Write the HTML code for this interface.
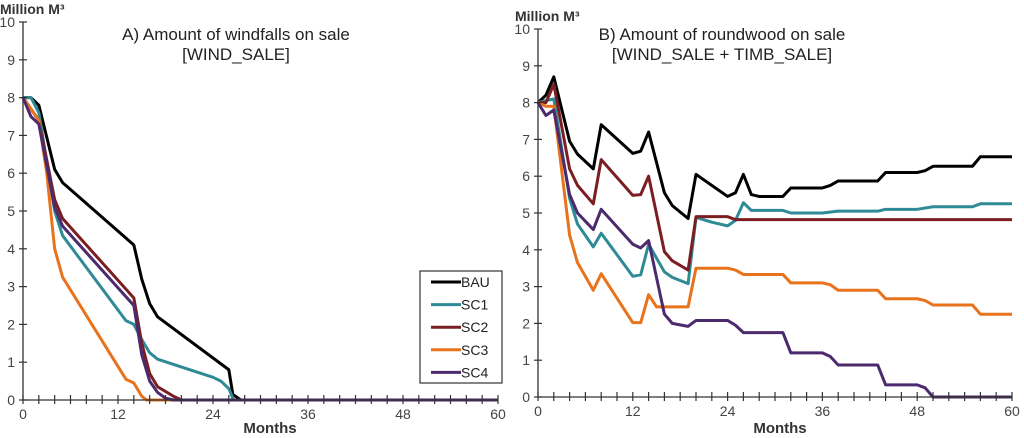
<!DOCTYPE html>
<html><head><meta charset="utf-8"><style>
html,body{margin:0;padding:0;background:#fff;}
svg{display:block;font-family:"Liberation Sans",Arial,sans-serif;}
</style></head><body>
<svg id="c" width="1024" height="438"></svg>
<script>
const colors=["#000000","#2e8b96","#7b1e22","#e8731c","#4b2a6e"];
const names=["BAU","SC1","SC2","SC3","SC4"];
const xTicks=[0,12,24,36,48,60];
const yTicks=[0,1,2,3,4,5,6,7,8,9,10];
// Chart A (windfalls on sale)
const aBAUx=[0,1,2,4,5,14,15,16,17,26,26.5,27.5,60];
const aBAUy=[8,8,7.8,6.1,5.75,4.1,3.2,2.55,2.2,0.8,0.15,0,0];
const aSC1x=[0,1,2,4,5,13,14,15,16,17,24,25,26,26.6,60];
const aSC1y=[8,8,7.6,5,4.35,2.1,2,1.6,1.25,1.08,0.6,0.5,0.3,0,0];
const aSC2x=[0,2,4,5,14,15,16,17,19,20,60];
const aSC2y=[8,7.4,5.3,4.8,2.7,1.5,0.7,0.35,0.1,0,0];
const aSC3x=[0,2,3,4,5,13,14,15,15.6,60];
const aSC3y=[8,7.4,6,4,3.25,0.55,0.45,0.1,0,0];
const aSC4x=[0,1,2,4,5,14,15,16,17,18,19,60];
const aSC4y=[8,7.5,7.3,5.1,4.6,2.5,1.2,0.5,0.2,0.05,0,0];
// Chart B (roundwood on sale)
const bBAUx=[0,1,2,4,5,7,8,12,13,14,16,17,19,20,24,25,26,27,28,31,32,36,37,38,43,44,48,49,50,55,56,60];
const bBAUy=[8,8.2,8.7,6.95,6.6,6.2,7.4,6.62,6.68,7.2,5.55,5.2,4.85,6.05,5.45,5.55,6.05,5.5,5.45,5.45,5.68,5.68,5.75,5.87,5.87,6.1,6.1,6.15,6.27,6.27,6.53,6.53];
const bSC1x=[0,1,2,4,5,7,8,12,13,14,16,17,19,20,22,24,25,26,27,31,32,36,38,43,44,48,50,55,56,60];
const bSC1y=[8,8.05,8.1,5.4,4.7,4.08,4.45,3.28,3.32,4.15,3.4,3.25,3.08,4.88,4.75,4.65,4.8,5.28,5.07,5.07,5,5,5.05,5.05,5.1,5.1,5.17,5.17,5.25,5.25];
const bSC2x=[0,1,2,4,5,7,8,12,13,14,16,17,19,20,24,25,60];
const bSC2y=[8,8,8.5,6.2,5.75,5.25,6.45,5.48,5.5,6,3.95,3.7,3.45,4.9,4.9,4.82,4.82];
const bSC3x=[0,1,2,4,5,7,8,12,13,14,15,19,20,24,25,26,31,32,36,37,38,43,44,48,49,50,55,56,60];
const bSC3y=[8,7.9,7.9,4.4,3.65,2.9,3.35,2.02,2.02,2.78,2.45,2.45,3.5,3.5,3.45,3.33,3.33,3.1,3.1,3.05,2.9,2.9,2.67,2.67,2.62,2.5,2.5,2.25,2.25];
const bSC4x=[0,1,2,4,5,7,8,12,13,14,16,17,19,20,24,25,26,31,32,36,37,38,43,44,48,49,50,60];
const bSC4y=[8,7.65,7.8,5.5,5,4.55,5.1,4.15,4.05,4.25,2.25,2,1.92,2.08,2.08,1.95,1.75,1.75,1.2,1.2,1.1,0.87,0.87,0.33,0.33,0.25,0,0];

const NS="http://www.w3.org/2000/svg";
const svg=document.getElementById('c');
function mk(tag,attrs,parent){const e=document.createElementNS(NS,tag);for(const k in attrs)e.setAttribute(k,attrs[k]);(parent||svg).appendChild(e);return e;}

function chart(id,x0,x1,y0,y1,series,titleLines,tcx,titleAnchor,labelRight,mLabelX){
  const g=mk('g',{});
  
  
  const sx=m=>x0+(m/60)*(x1-x0);
  const sy=v=>y0-(v/10)*(y0-y1);
  series.forEach((s,i)=>{
    const p=mk('polyline',{points:s[0].map((m,j)=>sx(m)+','+sy(s[1][j])).join(' '),fill:'none',stroke:colors[i],'stroke-width':3,'stroke-linejoin':'round'},g);
    
    
  });
  const ya=mk('line',{x1:x0,y1:y0,x2:x0,y2:y1,stroke:'#333','stroke-width':1.3},g);
  
  
  const xa=mk('line',{x1:x0,y1:y0,x2:x1,y2:y0,stroke:'#333','stroke-width':1.3},g);
  
  
  yTicks.forEach(v=>{
    mk('line',{x1:x0-4,y1:sy(v),x2:x0+4,y2:sy(v),stroke:'#333','stroke-width':1.2},g);
    const t=mk('text',{x:labelRight,y:sy(v)+5,'text-anchor':'end','font-size':14,fill:'#444'},g);
    t.textContent=v;
    
    
  });
  for(let m=0;m<=60;m+=2){mk('line',{x1:sx(m),y1:y0-5,x2:sx(m),y2:y0+4,stroke:'#333','stroke-width':1.2},g);}
  xTicks.forEach(m=>{
    const t=mk('text',{x:sx(m),y:y0+19,'text-anchor':'middle','font-size':14,fill:'#444'},g);
    t.textContent=m;
    
    
  });
  const yt=mk('text',{x:x0-23,y:y1-8,'font-size':14,'font-weight':'bold',fill:'#333'},g);
  yt.textContent='Million M³';
  
  
  const xt=mk('text',{x:mLabelX,y:433,'text-anchor':'middle','font-size':15,'font-weight':'bold',fill:'#333'},g);
  xt.textContent='Months';
  
  
  titleLines.forEach((l,i)=>{
    const t=mk('text',{x:tcx,y:40+i*20,'text-anchor':titleAnchor,'font-size':17,fill:'#222'},g);
    t.textContent=l;
    
    
  });
}
chart('chart-a',23,498,400,22,[[aBAUx,aBAUy],[aSC1x,aSC1y],[aSC2x,aSC2y],[aSC3x,aSC3y],[aSC4x,aSC4y]],['A) Amount of windfalls on sale','[WIND_SALE]'],236,'middle',15,270);
chart('chart-b',538,1012,397,29,[[bBAUx,bBAUy],[bSC1x,bSC1y],[bSC2x,bSC2y],[bSC3x,bSC3y],[bSC4x,bSC4y]],['B) Amount of  roundwood on sale','[WIND_SALE + TIMB_SALE]'],722,'middle',530,780);

const lg=mk('g',{});


mk('rect',{x:420,y:271,width:82,height:112,fill:'#fff',stroke:'#333','stroke-width':1.2},lg);
names.forEach((n,i)=>{
  const y=282+i*22.6;
  const e=mk('g',{},lg);
  
  
  mk('line',{x1:431,y1:y,x2:461,y2:y,stroke:colors[i],'stroke-width':3},e);
  const t=mk('text',{x:461,y:y+5,'font-size':14,fill:'#222'},e);
  t.textContent=n;
});
</script>
</body></html>
